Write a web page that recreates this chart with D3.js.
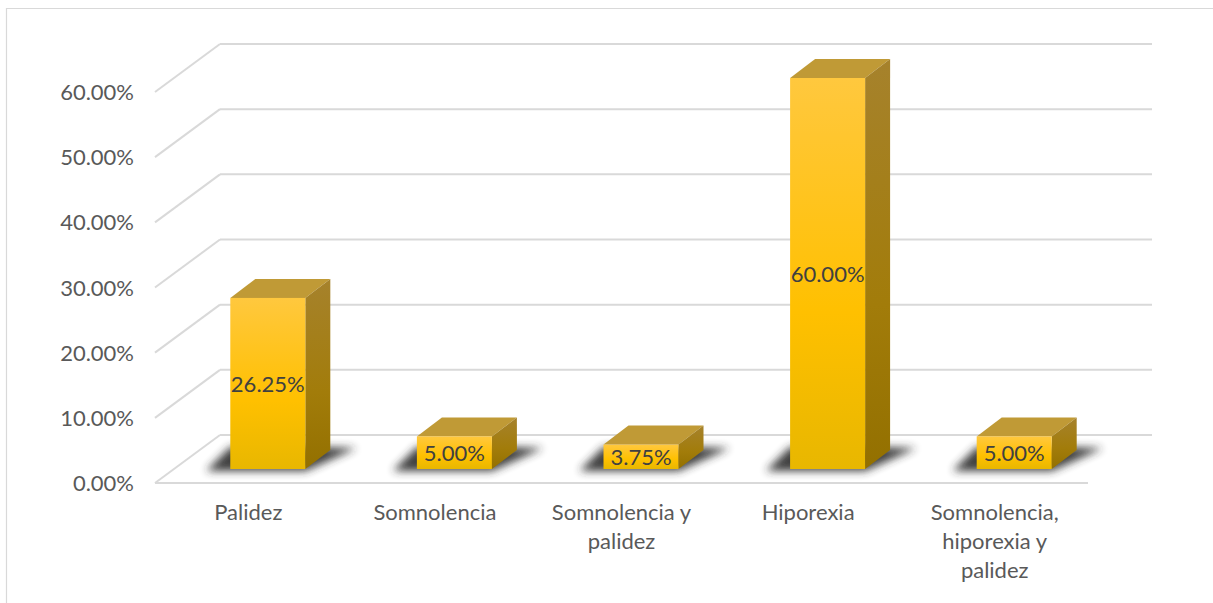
<!DOCTYPE html>
<html><head><meta charset="utf-8">
<script src="https://cdn.jsdelivr.net/npm/d3@7"></script>
<style>html,body{margin:0;padding:0;background:#fff}svg{display:block}text{font-family:Lato,"Open Sans",sans-serif}</style>
</head><body><svg id="c" width="1213" height="603"></svg>
<script>
const categories = ["Palidez","Somnolencia","Somnolencia y palidez","Hiporexia","Somnolencia, hiporexia y palidez"];
const values = [26.25,5,3.75,60,5];
const tickValues = [0,10,20,30,40,50,60];

const svg = d3.select("#c");
const fmt = d => d.toFixed(2) + "%";
const grid = "#d9d9d9";
const fontSize = 22;
const depthX = 65, depthY = 48;          // wall depth
const barDX = 25, barDY = 19;            // bar depth
const floorDX = 19.5, floorDY = 14;      // bar inset from front of floor
const y = d3.scaleLinear().domain([0,60]).range([483,92]);
const x = d3.scaleBand().domain(categories).range([155,1088]);
const barW = 75;

// chart frame
svg.append("path").attr("d","M6.5 603V8.5H1213").attr("fill","none").attr("stroke",grid).attr("stroke-width",1.2);

const defs = svg.append("defs");
function grad(id, stops){
  const g = defs.append("linearGradient").attr("id",id).attr("x1",0).attr("y1",0).attr("x2",0).attr("y2",1);
  stops.forEach(s=>g.append("stop").attr("offset",s[0]).attr("stop-color",s[1]));
}
grad("front",[[0,"#ffc83e"],[0.6,"#ffc000"],[1,"#e8b700"]]);
grad("side",[[0,"#a6822c"],[0.6,"#a27c0a"],[1,"#937000"]]);
defs.append("filter").attr("id","blur").attr("x","-30%").attr("y","-100%").attr("width","160%").attr("height","300%")
  .append("feGaussianBlur").attr("stdDeviation",4.5);

// walls
const g = svg.append("g").attr("fill","none").attr("stroke",grid).attr("stroke-width",2);
g.selectAll(".h").data(tickValues).join("line")
  .attr("x1",x.range()[0]+depthX).attr("x2",x.range()[1]+depthX-1)
  .attr("y1",d=>y(d)-depthY).attr("y2",d=>y(d)-depthY);
g.selectAll(".s").data(tickValues).join("line")
  .attr("x1",x.range()[0]).attr("x2",x.range()[0]+depthX)
  .attr("y1",d=>y(d)).attr("y2",d=>y(d)-depthY);
g.append("line").attr("x1",x.range()[0]).attr("x2",x.range()[1]).attr("y1",y(0)).attr("y2",y(0));

// y axis
const ya = svg.append("g").attr("transform","translate(134,0.5)")
  .call(d3.axisLeft(y).tickValues(tickValues).tickFormat(fmt).tickSize(0).tickPadding(0));
ya.select(".domain").remove();
ya.selectAll("text").attr("font-size",fontSize).attr("fill","#595959").style("font-family",'Lato,"Open Sans",sans-serif');

// x axis
const xa = svg.append("g").attr("transform","translate(0,500)")
  .call(d3.axisBottom(x).tickSize(0).tickPadding(0));
xa.select(".domain").remove();
xa.selectAll("text").attr("font-size",fontSize).attr("fill","#595959").style("font-family",'Lato,"Open Sans",sans-serif')
  .each(function(d){
    const t = d3.select(this).text(null).attr("y",0).attr("dy",null);
    let line=[], ts=t.append("tspan").attr("x",0).attr("y",20), n=0;
    d.split(" ").forEach(w=>{
      line.push(w); ts.text(line.join(" "));
      if(ts.node().getComputedTextLength()>172 && line.length>1){
        line.pop(); ts.text(line.join(" ")); line=[w]; n++;
        ts=t.append("tspan").attr("x",0).attr("y",20+n*29).text(w);
      }
    });
  });

// bars
const bx = c => x(c)+x.bandwidth()/2+floorDX-barW/2;
const base = y(0)-floorDY;
const h = v => y(0)-y(v);
const rows = categories.map((c,i)=>({c,v:values[i]}));

svg.append("g").selectAll("path").data(rows).join("path")
  .attr("filter","url(#blur)").attr("fill","#2b2b2b").attr("opacity",0.9)
  .attr("d",d=>{const a=bx(d.c);return `M${a-24} ${base+2}L${a+barW} ${base+2}L${a+barW+barDX+26} ${base-barDY-2}L${a+barW} ${base-barDY-3}L${a} ${base-barDY-3}Z`;});

const b = svg.append("g").selectAll("g").data(rows).join("g");
b.append("path").attr("fill","#c09a36")
  .attr("d",d=>{const a=bx(d.c),t=base-h(d.v);return `M${a} ${t}L${a+barDX} ${t-barDY}H${a+barW+barDX}L${a+barW} ${t}Z`;});
b.append("path").attr("fill","url(#side)")
  .attr("d",d=>{const a=bx(d.c)+barW,t=base-h(d.v);return `M${a} ${t}L${a+barDX} ${t-barDY}V${base-barDY}L${a} ${base}Z`;});
b.append("rect").attr("fill","url(#front)")
  .attr("x",d=>bx(d.c)).attr("y",d=>base-h(d.v)).attr("width",barW).attr("height",d=>h(d.v));
b.append("text").attr("text-anchor","middle").attr("dominant-baseline","central")
  .attr("font-size",fontSize).attr("fill","#404040")
  .attr("x",d=>bx(d.c)+barW/2).attr("y",d=>base-h(d.v)/2).text(d=>fmt(d.v));
</script></body></html>
